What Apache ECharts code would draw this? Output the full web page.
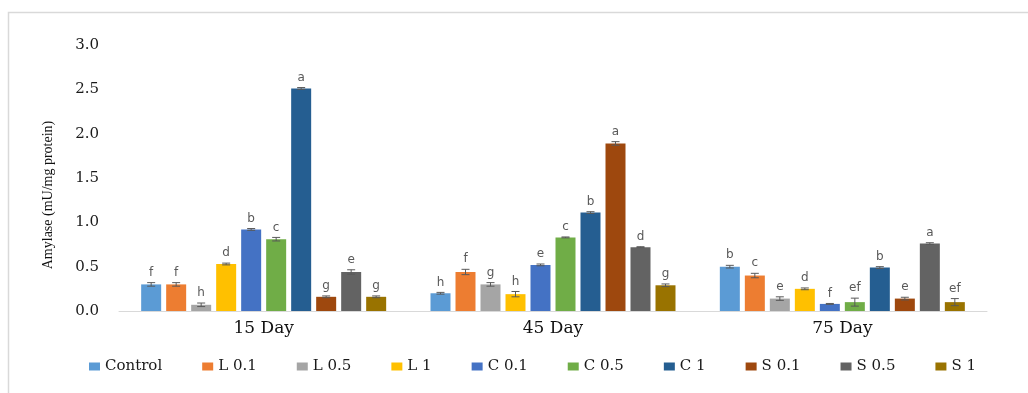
<!DOCTYPE html>
<html>
<head>
<meta charset="utf-8">
<script src="https://cdn.jsdelivr.net/npm/echarts@6/dist/echarts.min.js"></script>
<style>
html,body{margin:0;padding:0;background:#fff;}
#chart{width:1028px;height:393px;}
</style>
</head>
<body>
<div id="chart"></div>
<script>
const categories = ['15 Day', '45 Day', '75 Day'];
const seriesNames = ['Control', 'L 0.1', 'L 0.5', 'L 1', 'C 0.1', 'C 0.5', 'C 1', 'S 0.1', 'S 0.5', 'S 1'];
const colors = ['#5B9BD5', '#ED7D31', '#A5A5A5', '#FFC000', '#4472C4', '#70AD47', '#255E91', '#9E480E', '#636363', '#997300'];
const yTicks = [0, 0.5, 1.0, 1.5, 2.0, 2.5, 3.0];

// values per day, in series order
const day15 = [0.30, 0.30, 0.07, 0.53, 0.92, 0.81, 2.51, 0.16, 0.44, 0.16];
const day45 = [0.20, 0.44, 0.30, 0.19, 0.52, 0.83, 1.11, 1.89, 0.72, 0.29];
const day75 = [0.50, 0.40, 0.14, 0.25, 0.08, 0.10, 0.49, 0.14, 0.76, 0.10];
// standard errors
const err15 = [0.02, 0.02, 0.02, 0.01, 0.01, 0.02, 0.01, 0.01, 0.025, 0.01];
const err45 = [0.01, 0.03, 0.02, 0.03, 0.01, 0.005, 0.01, 0.02, 0.005, 0.015];
const err75 = [0.015, 0.025, 0.02, 0.01, 0.005, 0.045, 0.01, 0.015, 0.01, 0.04];
// significance letters
const let15 = ['f', 'f', 'h', 'd', 'b', 'c', 'a', 'g', 'e', 'g'];
const let45 = ['h', 'f', 'g', 'h', 'e', 'c', 'b', 'a', 'd', 'g'];
const let75 = ['b', 'c', 'e', 'd', 'f', 'ef', 'b', 'e', 'a', 'ef'];

const dayValues = [day15, day45, day75];
const dayErrors = [err15, err45, err75];
const dayLetters = [let15, let45, let75];

const BAR_W = 20;
const BAR_GAP_PX = 5;
const N = seriesNames.length;

const barSeries = seriesNames.map((name, i) => ({
  name: name,
  type: 'bar',
  barWidth: BAR_W,
  barGap: (BAR_GAP_PX / BAR_W * 100) + '%',
  itemStyle: { color: colors[i] },
  data: dayValues.map(d => d[i]),
  z: 2
}));

const errItems = [];
dayValues.forEach((d, c) => {
  d.forEach((v, s) => {
    errItems.push({ c: c, s: s, v: v, e: dayErrors[c][s], l: dayLetters[c][s] });
  });
});

const errSeries = {
  type: 'custom',
  name: 'errors',
  silent: true,
  clip: false,
  z: 5,
  data: errItems.map(it => [it.c, it.v + it.e, it.v - it.e]),
  encode: { x: 0, y: [1, 2] },
  renderItem: function (params, api) {
    const it = errItems[params.dataIndex];
    const offset = (it.s - (N - 1) / 2) * (BAR_W + BAR_GAP_PX);
    const top = api.coord([it.c, it.v + it.e]);
    const bot = api.coord([it.c, Math.max(0, it.v - it.e)]);
    const x = top[0] + offset;
    const cap = 4;
    const st = { stroke: '#595959', lineWidth: 1 };
    return {
      type: 'group',
      children: [
        { type: 'line', shape: { x1: x, y1: top[1], x2: x, y2: bot[1] }, style: st },
        { type: 'line', shape: { x1: x - cap, y1: top[1], x2: x + cap, y2: top[1] }, style: st },
        { type: 'line', shape: { x1: x - cap, y1: bot[1], x2: x + cap, y2: bot[1] }, style: st },
        {
          type: 'text',
          style: {
            text: it.l, x: x, y: top[1] - 4,
            textAlign: 'center', textVerticalAlign: 'bottom',
            fill: '#595959', font: '12px "DejaVu Sans", sans-serif'
          }
        }
      ]
    };
  }
};

const chart = echarts.init(document.getElementById('chart'), null, { renderer: 'canvas' });
chart.setOption({
  backgroundColor: '#ffffff',
  animation: false,
  graphic: [
    {
      type: 'rect',
      shape: { x: 8.5, y: 12.5, width: 1100, height: 500 },
      style: { fill: 'none', stroke: '#D9D9D9', lineWidth: 1.5 },
      silent: true
    }
  ],
  grid: { left: 119, right: 41, top: 45, bottom: 82, containLabel: false },
  legend: {
    data: seriesNames,
    top: 354,
    left: 84,
    icon: 'rect',
    itemWidth: 11,
    itemHeight: 8,
    itemGap: 40,
    textStyle: { fontFamily: '"DejaVu Serif", serif', fontSize: 15, color: '#1a1a1a' }
  },
  xAxis: {
    type: 'category',
    data: categories,
    axisLine: { lineStyle: { color: '#D9D9D9', width: 1 } },
    axisTick: { show: false },
    axisLabel: { margin: 9, fontFamily: '"DejaVu Serif", serif', fontSize: 17, color: '#111111' }
  },
  yAxis: {
    type: 'value',
    min: yTicks[0],
    max: yTicks[yTicks.length - 1],
    interval: 0.5,
    name: 'Amylase (mU/mg protein)',
    nameLocation: 'middle',
    nameRotate: 90,
    nameGap: 64,
    nameTextStyle: { fontFamily: '"Liberation Serif", serif', fontSize: 14, color: '#111111', padding: [0, 34, 0, 0] },
    axisLine: { show: false },
    axisTick: { show: false },
    splitLine: { show: false },
    axisLabel: {
      margin: 20,
      fontFamily: '"DejaVu Serif", serif',
      fontSize: 15,
      color: '#1a1a1a',
      formatter: v => v.toFixed(1)
    }
  },
  series: barSeries.concat([errSeries])
});
</script>
</body>
</html>
